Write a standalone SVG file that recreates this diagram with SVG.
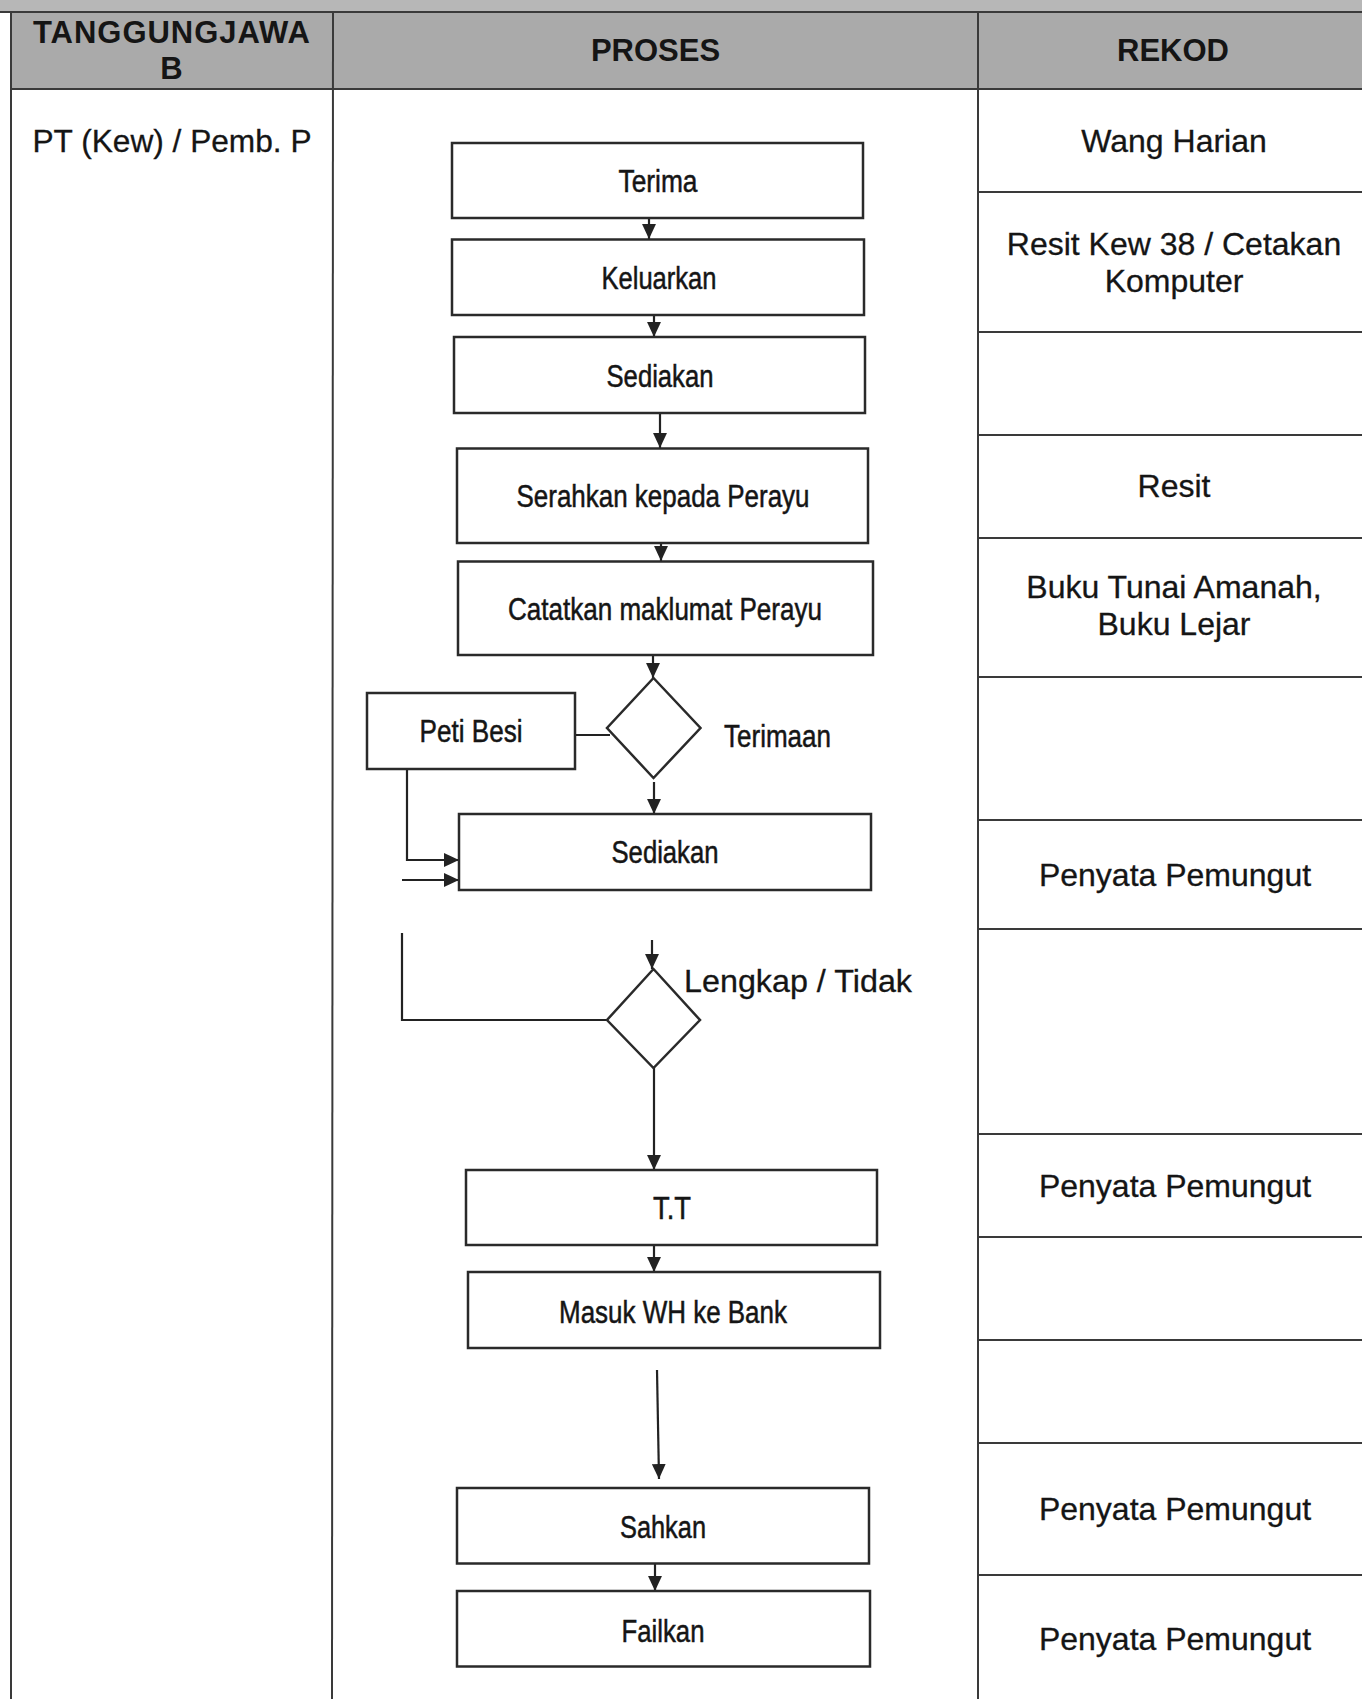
<svg xmlns="http://www.w3.org/2000/svg" width="1362" height="1699" viewBox="0 0 1362 1699">
<defs>
<marker id="arr" viewBox="0 0 14 13" refX="14" refY="6.5" markerWidth="15" markerHeight="14" markerUnits="userSpaceOnUse" orient="auto">
<path d="M0,0 L14,6.5 L0,13 z" fill="#222"/>
</marker>
</defs>
<style>
.grid{stroke:#3a3a3a;stroke-width:2;fill:none}
.box{fill:#fff;stroke:#2a2a2a;stroke-width:2.5}
.con{fill:none;stroke:#222;stroke-width:2.2}
.hdr{font-family:"Liberation Sans",Arial,sans-serif;font-weight:bold;font-size:31px;fill:#151515;text-anchor:middle}
.rk{font-family:"Liberation Sans",Arial,sans-serif;font-size:32px;fill:#151515;stroke:#151515;stroke-width:0.3;text-anchor:middle}
.nar{font-family:"Liberation Sans Narrow","Arial Narrow","Liberation Sans",sans-serif;font-size:31px;fill:#151515;stroke:#151515;stroke-width:0.5;text-anchor:middle}
</style>
<rect x="0" y="0" width="1362" height="1699" fill="#fff"/>
<g id="table">
<rect x="0" y="0" width="1362" height="12" fill="#b7b7b7"/>
<rect x="11" y="12" width="1351" height="77" fill="#aaaaaa"/>
<line class="grid" x1="0" y1="12" x2="1362" y2="12"/>
<line class="grid" x1="11" y1="89" x2="1362" y2="89"/>
<line class="grid" x1="11" y1="12" x2="11" y2="1699"/>
<line class="grid" x1="333" y1="12" x2="332" y2="1699"/>
<line class="grid" x1="978" y1="12" x2="978" y2="1699"/>
<g class="grid">
<line x1="978" y1="192" x2="1362" y2="192"/>
<line x1="978" y1="332" x2="1362" y2="332"/>
<line x1="978" y1="435" x2="1362" y2="435"/>
<line x1="978" y1="538" x2="1362" y2="538"/>
<line x1="978" y1="677" x2="1362" y2="677"/>
<line x1="978" y1="820" x2="1362" y2="820"/>
<line x1="978" y1="929" x2="1362" y2="929"/>
<line x1="978" y1="1134" x2="1362" y2="1134"/>
<line x1="978" y1="1237" x2="1362" y2="1237"/>
<line x1="978" y1="1340" x2="1362" y2="1340"/>
<line x1="978" y1="1443" x2="1362" y2="1443"/>
<line x1="978" y1="1575" x2="1362" y2="1575"/>
</g>
<text class="hdr" x="171.5" y="43" font-size="29" textLength="277" lengthAdjust="spacing">TANGGUNGJAWA</text>
<text class="hdr" x="171.5" y="79" font-size="29">B</text>
<text class="hdr" x="655.5" y="61">PROSES</text>
<text class="hdr" x="1173" y="61">REKOD</text>
<text class="rk" x="172" y="152" textLength="279" lengthAdjust="spacingAndGlyphs">PT (Kew) / Pemb. P</text>
</g>
<g id="rekod">
<text class="rk" x="1174" y="152">Wang Harian</text>
<text class="rk" x="1174" y="255">Resit Kew 38 / Cetakan</text>
<text class="rk" x="1174" y="292">Komputer</text>
<text class="rk" x="1174" y="497">Resit</text>
<text class="rk" x="1174" y="598">Buku Tunai Amanah,</text>
<text class="rk" x="1174" y="635">Buku Lejar</text>
<text class="rk" x="1175" y="886">Penyata Pemungut</text>
<text class="rk" x="1175" y="1197">Penyata Pemungut</text>
<text class="rk" x="1175" y="1520">Penyata Pemungut</text>
<text class="rk" x="1175" y="1650">Penyata Pemungut</text>
</g>
<g id="connectors">
<line class="con" x1="649" y1="218" x2="649" y2="239" marker-end="url(#arr)"/>
<line class="con" x1="654" y1="310" x2="654" y2="337" marker-end="url(#arr)"/>
<line class="con" x1="660" y1="413" x2="660" y2="448" marker-end="url(#arr)"/>
<line class="con" x1="661" y1="530" x2="661" y2="561" marker-end="url(#arr)"/>
<line class="con" x1="653" y1="645" x2="653" y2="678" marker-end="url(#arr)"/>
<line class="con" x1="575" y1="735" x2="610" y2="735"/>
<line class="con" x1="654" y1="782" x2="654" y2="814" marker-end="url(#arr)"/>
<polyline class="con" points="407,769 407,860 459,860" marker-end="url(#arr)"/>
<line class="con" x1="402" y1="880" x2="459" y2="880" marker-end="url(#arr)"/>
<line class="con" x1="652" y1="940" x2="652" y2="969" marker-end="url(#arr)"/>
<polyline class="con" points="607,1020 402,1020 402,933"/>
<line class="con" x1="654" y1="1068" x2="654" y2="1170" marker-end="url(#arr)"/>
<line class="con" x1="654" y1="1241" x2="654" y2="1272" marker-end="url(#arr)"/>
<line class="con" x1="657" y1="1370" x2="659" y2="1479" marker-end="url(#arr)"/>
<line class="con" x1="655" y1="1558" x2="655" y2="1591" marker-end="url(#arr)"/>
</g>
<g id="terima"><rect class="box" x="452" y="143" width="411" height="75"/><text class="nar" x="658" y="192" textLength="79" lengthAdjust="spacingAndGlyphs">Terima</text></g>
<g id="keluarkan"><rect class="box" x="452" y="239.5" width="412" height="75.5"/><text class="nar" x="659" y="289" textLength="115" lengthAdjust="spacingAndGlyphs">Keluarkan</text></g>
<g id="sediakan1"><rect class="box" x="454" y="337" width="411" height="76"/><text class="nar" x="660" y="386.5" textLength="107" lengthAdjust="spacingAndGlyphs">Sediakan</text></g>
<g id="serahkan"><rect class="box" x="457" y="448.5" width="411" height="94.5"/><text class="nar" x="663" y="507" textLength="293" lengthAdjust="spacingAndGlyphs">Serahkan kepada Perayu</text></g>
<g id="catatkan"><rect class="box" x="458" y="561.5" width="415" height="93.5"/><text class="nar" x="665" y="619.5" textLength="314" lengthAdjust="spacingAndGlyphs">Catatkan maklumat Perayu</text></g>
<g id="terimaan"><polygon class="box" points="653.5,678 700.5,728 653.5,778 607,728"/><text class="nar" x="777.5" y="747" textLength="107" lengthAdjust="spacingAndGlyphs">Terimaan</text></g>
<g id="peti-besi"><rect class="box" x="367" y="693" width="208" height="76"/><text class="nar" x="471" y="741.5" textLength="103" lengthAdjust="spacingAndGlyphs">Peti Besi</text></g>
<g id="sediakan2"><rect class="box" x="459" y="814" width="412" height="76"/><text class="nar" x="665" y="863" textLength="107" lengthAdjust="spacingAndGlyphs">Sediakan</text></g>
<g id="lengkap"><polygon class="box" points="653.5,969 700,1020 653.5,1068 607,1020"/><text class="rk" x="798" y="992" textLength="228" lengthAdjust="spacingAndGlyphs">Lengkap / Tidak</text></g>
<g id="tt"><rect class="box" x="466" y="1170" width="411" height="75"/><text class="nar" x="672" y="1219" textLength="38" lengthAdjust="spacingAndGlyphs">T.T</text></g>
<g id="masuk"><rect class="box" x="468" y="1272" width="412" height="76"/><text class="nar" x="673" y="1322.5" textLength="228" lengthAdjust="spacingAndGlyphs">Masuk WH ke Bank</text></g>
<g id="sahkan"><rect class="box" x="457" y="1488" width="412" height="75.5"/><text class="nar" x="663" y="1538" textLength="86" lengthAdjust="spacingAndGlyphs">Sahkan</text></g>
<g id="failkan"><rect class="box" x="457" y="1591" width="413" height="75.5"/><text class="nar" x="663" y="1641.5" textLength="83" lengthAdjust="spacingAndGlyphs">Failkan</text></g>
</svg>
